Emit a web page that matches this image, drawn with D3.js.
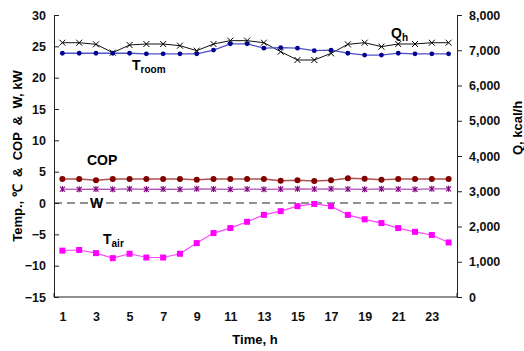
<!DOCTYPE html>
<html><head><meta charset="utf-8">
<script src="https://cdn.jsdelivr.net/npm/d3@7/dist/d3.min.js"></script>
<style>
body{margin:0;background:#fff;}
text{font-family:"Liberation Sans",Arial,sans-serif;font-weight:bold;}
</style></head>
<body><svg id="c" width="524" height="351"></svg>
<script>
const hours = d3.range(1, 25);
const xTickLabels = [1,3,5,7,9,11,13,15,17,19,21,23];
const leftTicks = [-15,-10,-5,0,5,10,15,20,25,30];
const rightTicks = [0,1000,2000,3000,4000,5000,6000,7000,8000];
const tRoom = [23.9,23.9,23.9,23.9,23.9,23.8,23.8,23.8,23.8,24.4,25.4,25.4,24.7,24.8,24.7,24.3,24.4,23.9,23.6,23.6,23.9,23.8,23.8,23.8];
const qH = [7214,7214,7168,6931,7149,7177,7177,7130,6988,7177,7272,7272,7214,6959,6723,6723,6912,7168,7214,7102,7177,7177,7214,7214];
const cop = [3.83,3.83,3.62,3.83,3.83,3.83,3.83,3.83,3.72,3.83,3.83,3.83,3.83,3.57,3.62,3.51,3.62,3.93,3.88,3.72,3.83,3.83,3.83,3.83];
const wPow = [2.22,2.18,2.22,2.18,2.26,2.18,2.22,2.18,2.26,2.22,2.18,2.22,2.18,2.22,2.26,2.22,2.26,2.22,2.18,2.26,2.22,2.18,2.26,2.26];
const tAir = [-7.6,-7.5,-8.0,-8.8,-8.1,-8.7,-8.7,-8.1,-6.4,-4.8,-4.0,-3.0,-1.9,-1.3,-0.5,-0.15,-0.5,-1.9,-2.6,-3.2,-4.0,-4.6,-5.1,-6.3];

const svg = d3.select("#c");
const L = 54, R = 457, T = 15, B = 297;
const x = d3.scalePoint().domain(hours).range([L, R]).padding(0.5);
const yL = d3.scaleLinear().domain([-15, 30]).range([B, T]);
const yR = d3.scaleLinear().domain([0, 8000]).range([B, T]);

// axes
const gl = svg.append("g").attr("transform", `translate(${L},0)`)
  .call(d3.axisLeft(yL).tickValues(leftTicks).tickSizeInner(-5).tickSizeOuter(0).tickPadding(8));
const gr = svg.append("g").attr("transform", `translate(${R},0)`)
  .call(d3.axisRight(yR).tickValues(rightTicks).tickSize(5).tickSizeOuter(0).tickPadding(7).tickFormat(d3.format(",")));
const gb = svg.append("g").attr("transform", `translate(0,${B})`)
  .call(d3.axisBottom(x).tickValues(xTickLabels).tickSize(0).tickPadding(15));
gb.select(".domain").attr("d", `M${L},-4V0H${R}V-4`);
[gl, gr, gb].forEach(g => {
  g.selectAll("text").style("font-size", "12.5px").style("font-family", '"Liberation Sans",Arial,sans-serif').style("font-weight","bold").attr("fill","#111");
  g.selectAll("path,line").attr("stroke", "#222");
});
gr.selectAll("text").attr("text-anchor","start");

// zero dashed line
svg.append("line").attr("x1", L).attr("x2", R).attr("y1", yL(0)).attr("y2", yL(0))
  .attr("stroke", "#222").attr("stroke-dasharray", "8,5").attr("stroke-width", 1);

function line(data, yS) {
  return d3.line().x((d, i) => x(hours[i])).y(d => yS(d))(data);
}
// Tair
svg.append("path").attr("d", line(tAir, yL)).attr("fill","none").attr("stroke","#ff44ff").attr("stroke-width",1.2);
svg.selectAll(".ta").data(tAir).enter().append("rect")
  .attr("x",(d,i)=>x(hours[i])-3).attr("y",d=>yL(d)-3).attr("width",6).attr("height",6).attr("fill","#ff00ff");
// W
svg.append("path").attr("d", line(wPow, yL)).attr("fill","none").attr("stroke","#b050b0").attr("stroke-width",1.3);
svg.selectAll(".w").data(wPow).enter().append("g")
  .attr("transform",(d,i)=>`translate(${x(hours[i])},${yL(d)})`)
  .each(function(){
    const g=d3.select(this);
    [[-2.5,-2.5,2.5,2.5],[-2.5,2.5,2.5,-2.5],[0,-3,0,3]].forEach(s=>g.append("line").attr("x1",s[0]).attr("y1",s[1]).attr("x2",s[2]).attr("y2",s[3]).attr("stroke","#800080").attr("stroke-width",1.2));
  });
// COP
svg.append("path").attr("d", line(cop, yL)).attr("fill","none").attr("stroke","#b05050").attr("stroke-width",1.5);
svg.selectAll(".cop").data(cop).enter().append("circle")
  .attr("cx",(d,i)=>x(hours[i])).attr("cy",d=>yL(d)).attr("r",3).attr("fill","#800000");
// Qh
svg.append("path").attr("d", line(qH, yR)).attr("fill","none").attr("stroke","#111").attr("stroke-width",1);
svg.selectAll(".q").data(qH).enter().append("g")
  .attr("transform",(d,i)=>`translate(${x(hours[i])},${yR(d)})`)
  .each(function(){
    const g=d3.select(this);
    [[-3,-3,3,3],[-3,3,3,-3]].forEach(s=>g.append("line").attr("x1",s[0]).attr("y1",s[1]).attr("x2",s[2]).attr("y2",s[3]).attr("stroke","#000").attr("stroke-width",1));
  });
// Troom
svg.append("path").attr("d", line(tRoom, yL)).attr("fill","none").attr("stroke","#5050c8").attr("stroke-width",1.3);
svg.selectAll(".tr").data(tRoom).enter().append("circle")
  .attr("cx",(d,i)=>x(hours[i])).attr("cy",d=>yL(d)).attr("r",2.4).attr("fill","#000090");

// labels
function lab(xp, yp, main, sub) {
  const t = svg.append("text").attr("x", xp).attr("y", yp).style("font-size","14px").attr("fill","#000").text(main);
  if (sub) t.append("tspan").attr("dy", 3).style("font-size","10px").text(sub);
}
lab(391, 38, "Q", "h");
lab(132, 70, "T", "room");
lab(87, 165, "COP");
lab(90, 208, "W");
lab(103, 244, "T", "air");

// axis titles
svg.append("text").attr("transform","translate(22,156) rotate(-90)").attr("text-anchor","middle")
  .attr("xml:space","preserve").style("white-space","pre")
  .style("font-size","13px").text("Temp., ℃  &  COP  &  W, kW");
svg.append("text").attr("transform","translate(522,128) rotate(-90)").attr("text-anchor","middle")
  .style("font-size","13px").text("Q, kcal/h");
svg.append("text").attr("x",255).attr("y",344).attr("text-anchor","middle")
  .style("font-size","13px").text("Time, h");
</script></body></html>
